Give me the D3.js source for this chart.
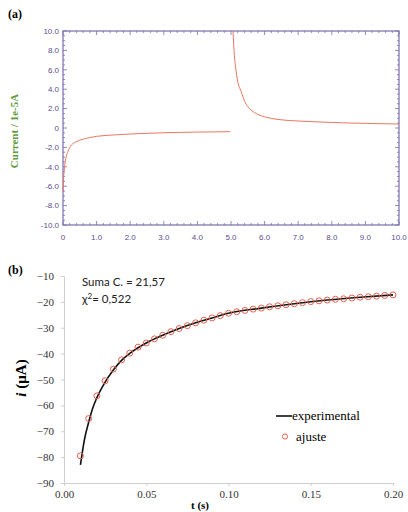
<!DOCTYPE html>
<html lang="es">
<head>
  <meta charset="UTF-8">
  <title>Cronoamperometría</title>
  <script src="https://d3js.org/d3.v7.min.js"></script>
  <style>
    body { margin: 0; background: #fff; }
    svg { display: block; }
  </style>
</head>
<body>
  <svg width="408" height="512"></svg>

  <script>
    // panel (a): current transient, 1e-5 A vs s
    const stepA_t = [0.0, 0.02, 0.05, 0.1, 0.15, 0.2, 0.3, 0.4, 0.6, 0.8, 1.0, 1.5, 2.0, 2.5, 3.0, 3.5, 4.0, 4.5, 4.98];
    const stepA_i = [-6.5, -5.0, -3.9, -2.9, -2.4, -2.0, -1.6, -1.4, -1.15, -0.98, -0.86, -0.72, -0.62, -0.55, -0.49, -0.45, -0.42, -0.4, -0.38];
    const stepB_t = [5.06, 5.1, 5.14, 5.2, 5.3, 5.4, 5.5, 5.6, 5.8, 6.0, 6.4, 7.0, 7.5, 8.0, 8.5, 9.0, 9.5, 10.0];
    const stepB_i = [10, 7.5, 6.2, 4.8, 3.8, 2.8, 2.2, 1.85, 1.4, 1.15, 0.88, 0.72, 0.64, 0.57, 0.52, 0.48, 0.44, 0.41];
    const ticksA_x = [0, 1, 2, 3, 4, 5, 6, 7, 8, 9, 10];
    const ticksA_y = [10, 8, 6, 4, 2, 0, -2, -4, -6, -8, -10];

    // panel (b): fit vs experimental, µA vs s
    const fit_t = [0.01, 0.015, 0.02, 0.025, 0.03, 0.035, 0.04, 0.045, 0.05, 0.055, 0.06, 0.065, 0.07, 0.075, 0.08, 0.085, 0.09, 0.095, 0.1,
                   0.105, 0.11, 0.115, 0.12, 0.125, 0.13, 0.135, 0.14, 0.145, 0.15, 0.155, 0.16, 0.165, 0.17, 0.175, 0.18, 0.185, 0.19, 0.195, 0.2];
    const fit_i = [-79.5, -65.1, -56.3, -50.5, -46.0, -42.4, -39.8, -37.5, -35.9, -34.3, -32.9, -31.5, -30.3, -29.2, -28.1, -27.1, -26.2, -25.3, -24.4,
                   -23.8, -23.3, -22.8, -22.4, -21.9, -21.5, -21.1, -20.7, -20.3, -19.9, -19.6, -19.3, -19.0, -18.8, -18.5, -18.2, -18.0, -17.8, -17.5, -17.3];
    const exp_t = [0.01, 0.0125, 0.015, 0.0175, 0.02, 0.025, 0.03, 0.035, 0.04, 0.05, 0.06, 0.07, 0.08, 0.09, 0.1, 0.12, 0.14, 0.16, 0.18, 0.2];
    const exp_i = [-83, -73, -66.5, -61, -57, -51, -46.3, -42.6, -39.9, -35.9, -32.9, -30.3, -28.1, -26.2, -24.4, -22.4, -20.7, -19.3, -18.2, -17.3];
    const ticksB_x = [0, 0.05, 0.1, 0.15, 0.2];
    const ticksB_y = [-10, -20, -30, -40, -50, -60, -70, -80, -90];

    const svg = d3.select("svg");
    const serif = "'Liberation Serif', 'Times New Roman', serif";
    const sans = "'Liberation Sans', Arial, sans-serif";

    // ---------- (a) ----------
    const ink = "#5b4d8a";
    const xa = d3.scaleLinear().domain([0, 10]).range([63, 399]);
    const ya = d3.scaleLinear().domain([-10, 10]).range([225, 31]);
    const ga = svg.append("g");

    ga.append("text").attr("x", 8).attr("y", 18)
      .style("font-family", serif).attr("font-weight", "bold").attr("font-size", 12)
      .text("(a)");

    ga.append("rect").attr("x", xa(0)).attr("y", ya(10))
      .attr("width", xa(10) - xa(0)).attr("height", ya(-10) - ya(10))
      .attr("fill", "#fff").attr("stroke", "#7a6cae").attr("stroke-width", 1.2);

    // minor ticks on all four sides
    const minorX = d3.range(0, 10.001, 0.2);
    const minorY = d3.range(-10, 10.001, 0.5);
    const tickLines = [];
    minorX.forEach(v => {
      const len = Math.abs(v - Math.round(v)) < 1e-6 ? 4 : 2;
      tickLines.push([xa(v), ya(-10), xa(v), ya(-10) - len]);
      tickLines.push([xa(v), ya(10), xa(v), ya(10) + len]);
    });
    minorY.forEach(v => {
      const len = Math.abs(v / 2 - Math.round(v / 2)) < 1e-6 ? 4 : 2;
      tickLines.push([xa(0), ya(v), xa(0) + len, ya(v)]);
      tickLines.push([xa(10), ya(v), xa(10) - len, ya(v)]);
    });
    ga.selectAll("line.tk").data(tickLines).join("line")
      .attr("x1", d => d[0]).attr("y1", d => d[1]).attr("x2", d => d[2]).attr("y2", d => d[3])
      .attr("stroke", "#7a6cae").attr("stroke-width", 0.8);

    ga.selectAll("text.xl").data(ticksA_x).join("text")
      .attr("x", d => xa(d)).attr("y", 240)
      .attr("text-anchor", "middle")
      .style("font-family", sans).attr("font-size", 8).attr("fill", ink)
      .text(d => d === 0 ? "0" : d.toFixed(1));

    ga.selectAll("text.yl").data(ticksA_y).join("text")
      .attr("x", 59).attr("y", d => ya(d) + 2.8)
      .attr("text-anchor", "end")
      .style("font-family", sans).attr("font-size", 8).attr("fill", ink)
      .text(d => d === 0 ? "0" : d.toFixed(1));

    ga.append("text")
      .attr("transform", "translate(18,131) rotate(-90)")
      .attr("text-anchor", "middle")
      .style("font-family", serif).attr("font-weight", "bold").attr("font-size", 11)
      .attr("fill", "#5f9a3c")
      .text("Current / 1e-5A");

    const lineA = d3.line().x(d => xa(d[0])).y(d => ya(d[1])).curve(d3.curveMonotoneX);
    [d3.zip(stepA_t, stepA_i), d3.zip(stepB_t, stepB_i)].forEach(seg => {
      ga.append("path").datum(seg)
        .attr("d", lineA)
        .attr("fill", "none").attr("stroke", "#e8785e").attr("stroke-width", 1);
    });

    // ---------- (b) ----------
    const xb = d3.scaleLinear().domain([0, 0.2]).range([64, 393]);
    const yb = d3.scaleLinear().domain([-90, -10]).range([483, 276]);
    const gb = svg.append("g");

    gb.append("text").attr("x", 8).attr("y", 274)
      .style("font-family", serif).attr("font-weight", "bold").attr("font-size", 12)
      .text("(b)");

    gb.append("g").attr("transform", "translate(0,483)")
      .call(d3.axisBottom(xb).tickValues(ticksB_x).tickSize(3).tickFormat(d3.format(".2f")))
      .call(g => {
        g.select(".domain").attr("stroke", "#cfcfcf");
        g.selectAll(".tick line").attr("stroke", "#cfcfcf");
        g.selectAll("text").style("font-family", serif).attr("font-size", 11).attr("fill", "#333").attr("dy", "0.85em");
      });

    gb.append("g").attr("transform", "translate(64,0)")
      .call(d3.axisLeft(yb).tickValues(ticksB_y).tickSize(3).tickFormat(d3.format("d")))
      .call(g => {
        g.select(".domain").attr("stroke", "#cfcfcf");
        g.selectAll(".tick line").attr("stroke", "#cfcfcf");
        g.selectAll("text").style("font-family", serif).attr("font-size", 11).attr("fill", "#333").attr("x", -10);
      });

    gb.append("text").attr("x", 200).attr("y", 509)
      .attr("text-anchor", "middle")
      .style("font-family", serif).attr("font-weight", "bold").attr("font-size", 11)
      .text("t (s)");

    const ylab = gb.append("text")
      .attr("transform", "translate(26,378) rotate(-90)")
      .attr("text-anchor", "middle")
      .style("font-family", serif).attr("font-weight", "bold").attr("font-size", 15);
    ylab.append("tspan").attr("font-style", "italic").text("i");
    ylab.append("tspan").text(" (μA)");

    gb.append("text").attr("x", 82).attr("y", 286)
      .style("font-family", "Lato").attr("font-size", 11.5).attr("fill", "#222")
      .text("Suma C. = 21,57");
    const chi = gb.append("text").attr("x", 82).attr("y", 303)
      .style("font-family", "Lato").attr("font-size", 11.5).attr("fill", "#222");
    chi.append("tspan").text("χ");
    chi.append("tspan").attr("dy", -4).attr("font-size", 8).text("2");
    chi.append("tspan").attr("dy", 4).text("= 0,522");

    gb.append("path").datum(d3.zip(exp_t, exp_i))
      .attr("d", d3.line().x(d => xb(d[0])).y(d => yb(d[1])).curve(d3.curveMonotoneX))
      .attr("fill", "none").attr("stroke", "#111").attr("stroke-width", 1.6);

    gb.selectAll("circle.fit").data(d3.zip(fit_t, fit_i)).join("circle")
      .attr("cx", d => xb(d[0])).attr("cy", d => yb(d[1])).attr("r", 3)
      .attr("fill", "none").attr("stroke", "#e2604e").attr("stroke-width", 1);

    // legend
    gb.append("line").attr("x1", 276).attr("x2", 292).attr("y1", 416).attr("y2", 416)
      .attr("stroke", "#111").attr("stroke-width", 1.6);
    gb.append("text").attr("x", 292).attr("y", 420)
      .style("font-family", serif).attr("font-size", 13).text("experimental");
    gb.append("circle").attr("cx", 285).attr("cy", 436.5).attr("r", 2.6)
      .attr("fill", "none").attr("stroke", "#e2604e").attr("stroke-width", 1);
    gb.append("text").attr("x", 296).attr("y", 440.5)
      .style("font-family", serif).attr("font-size", 13).text("ajuste");
  </script>
</body>
</html>
